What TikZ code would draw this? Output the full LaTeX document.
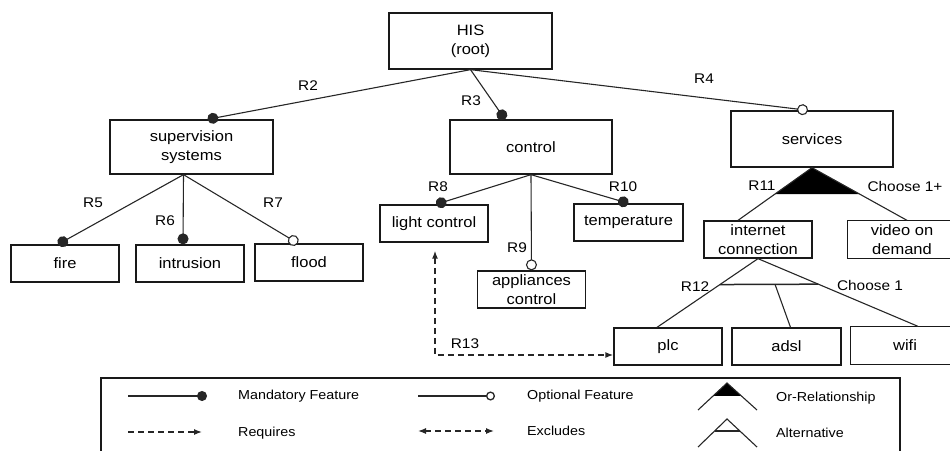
\documentclass[tikz,border=0pt]{standalone}
\usepackage{fontspec}
\setmainfont{Liberation Sans}[FakeStretch=1.1]
\usetikzlibrary{arrows.meta,calc}

\tikzset{ctip/.tip={Latex[length=8pt,width=6pt]}}

\begin{document}
\begin{tikzpicture}[x=1pt,y=-1pt,
  frame/.style={draw=black!90, line width=1.3pt},
  box/.style={frame, inner sep=0pt, align=center,
              font=\fontsize{15}{19}\selectfont},
  bigbox/.style={box, minimum width=162pt, minimum height=55pt},
  featbox/.style={box, minimum width=108pt, minimum height=37pt},
  rel/.style={line width=1.1pt, draw=black!85},
  mand/.style={rel, -{Circle[length=11pt]}},
  opt/.style={rel, -{Circle[open, length=11pt, fill=white]}},
  dsh/.style={rel, line width=1.5pt, dash pattern=on 6pt off 4pt},
  tag/.style={font=\fontsize{14}{16}\selectfont, inner sep=0pt},
  legtext/.style={font=\fontsize{13}{15}\selectfont, inner sep=0pt, anchor=west},
]
\useasboundingbox (0,0) rectangle (950,450);

% ---------- feature boxes ----------
\node[bigbox, minimum width=163pt, minimum height=56pt] (his) at (470.5,41) {HIS\\(root)};
\node[bigbox, minimum width=163pt, minimum height=54pt] (sup) at (191.5,147) {supervision\\systems};
\node[bigbox, minimum height=54pt] (ctl) at (531,147) {control};
\node[bigbox, minimum height=56pt] (svc) at (812,139) {services};

\node[featbox] (fire)  at (65,263.5)  {fire};
\node[featbox] (intr)  at (190,263.5) {intrusion};
\node[featbox] (flood) at (309,262.5) {flood};

\node[featbox] (lc)   at (434,223.5)   {light control};
\node[featbox, minimum width=109pt] (temp) at (628.5,222.5) {temperature};
\node[featbox] (app)  at (531.5,289.5) {appliances\\control};

\node[featbox] (ic)   at (758,239.5) {internet\\connection};
\node[featbox, draw=none] (vod) at (902,239.5) {video on\\demand};

\node[featbox] (plc)  at (668,346.5) {plc};
\node[featbox, minimum width=109pt] (adsl) at (786.5,346.5) {adsl};
\node[featbox, draw=none] (wifi) at (905,345.5) {wifi};

% the two right-hand boxes run past the right edge
\draw[frame] ($(vod.north east)+(20,0)$) -- (vod.north west) -- (vod.south west) -- ($(vod.south east)+(20,0)$);
\draw[frame] ($(wifi.north east)+(20,0)$) -- (wifi.north west) -- (wifi.south west) -- ($(wifi.south east)+(20,0)$);

% ---------- root relations ----------
\draw[mand] (his.south) -- ($(sup.north)+(16,0)$);
\draw[mand] (his.south) -- ($(ctl.north)+(-26,0)$);
\draw[opt]  (his.south) -- ($(svc.north)+(-4,0)$);

% ---------- supervision systems ----------
\draw[mand] ($(sup.south)+(-8,0)$) -- ($(fire.north)+(-7,0)$);
\draw[mand] ($(sup.south)+(-8,0)$) -- ($(intr.north)+(-7,0)$);
\draw[opt]  ($(sup.south)+(-8,0)$) -- ($(flood.north)+(-11,0)$);

% ---------- control ----------
\draw[mand] (ctl.south) -- ($(lc.north)+(2,0)$);
\draw[opt]  (ctl.south) -- (app.north);
\draw[mand] (ctl.south) -- (temp.north);

% ---------- services: or-relationship ----------
\coordinate (icTop)  at ($(ic.north)+(-20,0)$);
\coordinate (vodTop) at ($(vod.north)+(5,0)$);
\fill[black] (svc.south) -- ($(svc.south)!0.5!(icTop)$) -- ($(svc.south)!0.5!(vodTop)$) -- cycle;
\draw[rel] (svc.south) -- (icTop);
\draw[rel] (svc.south) -- (vodTop);

% ---------- internet connection: alternative ----------
\coordinate (plcTop)  at ($(plc.north)+(-11,0)$);
\coordinate (wifiTop) at ($(wifi.north)+(13,0)$);
\draw[rel] (ic.south) -- (plcTop);
\draw[rel] (ic.south) -- (wifiTop);
\coordinate (altL) at ($(ic.south)!0.377!(plcTop)$);
\coordinate (altR) at ($(ic.south)!0.377!(wifiTop)$);
\draw[rel, line width=1.5pt] (altL) -- (altR);
\draw[rel] ($(altL)!0.56!(altR)$) -- ($(adsl.north)+(4,0)$);

% ---------- cross-tree constraint ----------
\draw[dsh, {ctip}-{ctip}] ($(lc.south)+(1,8)$) |- ($(plc.west)+(0,8.5)$);

% ---------- relation labels ----------
\node[tag] (tR2)  at (308,86)  {R2};
\node[tag] (tR3)  at (471,101) {R3};
\node[tag] (tR4)  at (704,79)  {R4};
\node[tag] (tR5)  at (93,203)  {R5};
\node[tag] (tR6)  at (165,221) {R6};
\node[tag] (tR7)  at (273,203) {R7};
\node[tag] (tR8)  at (438,187) {R8};
\node[tag] (tR9)  at (517,248) {R9};
\node[tag] (tR10) at (623,187) {R10};
\node[tag] (tR11) at (762,186) {R11};
\node[tag] (tC1p) at (905,186) {Choose 1+};
\node[tag] (tR12) at (695,287) {R12};
\node[tag] (tC1)  at (870,285) {Choose 1};
\node[tag] (tR13) at (465,344) {R13};

% ---------- legend ----------
\draw[frame] (101,460) -- (101,378) -- (900,378) -- (900,460);

\coordinate (lm1) at (128,396); \coordinate (lm2) at (207,396);
\draw[rel, line width=1.3pt, -{Circle[length=10pt]}] (lm1) -- (lm2);
\node[legtext] (lmand) at (238,396) {Mandatory Feature};

\coordinate (lo1) at (418,396); \coordinate (lo2) at (495,396);
\draw[rel, line width=1.3pt, -{Circle[open, length=9pt, fill=white]}] (lo1) -- (lo2);
\node[legtext] (lopt) at (527,396) {Optional Feature};

\coordinate (lr1) at (128,432); \coordinate (lr2) at (202,432);
\draw[dsh, line width=1.3pt, -{ctip}] (lr1) -- (lr2);
\node[legtext] (lreq) at (238,433) {Requires};

\coordinate (le1) at (418,431); \coordinate (le2) at (494,431);
\draw[dsh, line width=1.3pt, {ctip}-{ctip}] (le1) -- (le2);
\node[legtext] (lexc) at (527,431) {Excludes};

\coordinate (lOr) at (727,383);
\coordinate (lOrL) at (698,410); \coordinate (lOrR) at (757,410);
\fill[black] (lOr) -- ($(lOr)!0.48!(lOrL)$) -- ($(lOr)!0.48!(lOrR)$) -- cycle;
\draw[rel] (lOrL) -- (lOr) -- (lOrR);
\node[legtext] (lortext) at (776,398) {Or-Relationship};

\coordinate (lAl) at (727,419);
\coordinate (lAlL) at (698,447); \coordinate (lAlR) at (757,447);
\draw[rel] (lAlL) -- (lAl) -- (lAlR);
\draw[rel] ($(lAl)!0.43!(lAlL)$) -- ($(lAl)!0.43!(lAlR)$);
\node[legtext] (lalttext) at (776,433) {Alternative};
\end{tikzpicture}
\end{document}
